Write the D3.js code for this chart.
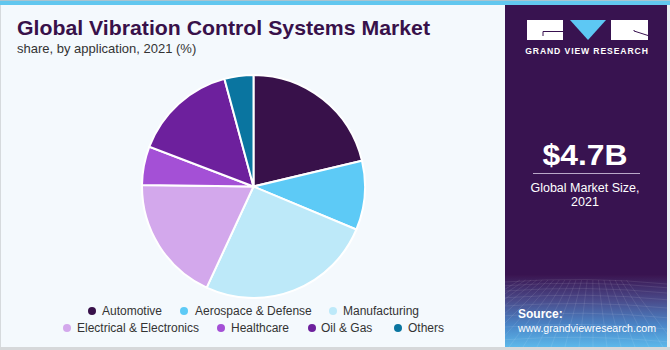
<!DOCTYPE html>
<html><head><meta charset="utf-8">
<script src="https://cdn.jsdelivr.net/npm/d3@7"></script>
<style>html,body{margin:0;padding:0;background:#fff;}svg{display:block;font-family:"Liberation Sans",Arial,sans-serif;}</style>
</head><body>
<svg id="c" width="670" height="350"></svg>
<script>
const categories = ["Automotive","Aerospace & Defense","Manufacturing","Electrical & Electronics","Healthcare","Oil & Gas","Others"];
const shares = [21.3, 10.0, 25.6, 18.3, 5.6, 15.0, 4.2];
const colors = ["#38114a","#5dcaf6","#bde9f9","#d3a8ec","#a450d6","#6d209d","#0a75a0"];
const title = "Global Vibration Control Systems Market";
const subtitle = "share, by application, 2021 (%)";
const marketSize = "$4.7B";
const marketLabel = ["Global Market Size,", "2021"];

const svg = d3.select("#c");
// background
svg.append("rect").attr("x",0).attr("y",0).attr("width",670).attr("height",350).attr("fill","#f4f9fd");
svg.append("rect").attr("x",0).attr("y",0).attr("width",1).attr("height",350).attr("fill","#d6dadd");
svg.append("rect").attr("x",0).attr("y",347).attr("width",670).attr("height",3).attr("fill","#d6d8da");
svg.append("rect").attr("x",0).attr("y",0).attr("width",670).attr("height",5).attr("fill","#62c7ef");
svg.append("rect").attr("x",0).attr("y",0).attr("width",670).attr("height",1).attr("fill","#a9c4d0");

// right panel
const defs = svg.append("defs");
const g1 = defs.append("linearGradient").attr("id","src").attr("x1",0).attr("y1",0).attr("x2",0).attr("y2",1);
g1.append("stop").attr("offset","0%").attr("stop-color","#3a1450");
g1.append("stop").attr("offset","35%").attr("stop-color","#4a4a8a");
g1.append("stop").attr("offset","70%").attr("stop-color","#4a86c8");
g1.append("stop").attr("offset","100%").attr("stop-color","#5cb8ea");
svg.append("rect").attr("x",505).attr("y",5).attr("width",162).attr("height",342).attr("fill","#381350");
svg.append("rect").attr("x",505).attr("y",275).attr("width",162).attr("height",72).attr("fill","url(#src)");
svg.append("rect").attr("x",667).attr("y",5).attr("width",3).attr("height",342).attr("fill","#e9eef2");
// grid texture
const gridG = svg.append("g").attr("stroke","#ffffff").attr("stroke-opacity",0.13).attr("stroke-width",0.7).attr("fill","none");
for(let i=0;i<10;i++){
  const y = 282 + i*i*0.75 + i*3;
  gridG.append("path").attr("d",`M505,${y} Q586,${y-6} 667,${y+2}`);
}
for(let i=-6;i<14;i++){
  const x0 = 505 + i*14;
  gridG.append("path").attr("d",`M${586+(x0-586)*0.4},280 L${x0-10},347`);
}

// logo
const logo = svg.append("g");
logo.append("rect").attr("x",527).attr("y",20).attr("width",36).attr("height",20).attr("fill","#fff");
logo.append("path").attr("d","M543,36 L543,31.5 L563,31.5").attr("stroke","#38114f").attr("stroke-width",1).attr("fill","none");
logo.append("path").attr("d","M570,20 L606,20 L588,40 Z").attr("fill","#5dc8f4");
logo.append("rect").attr("x",611).attr("y",20).attr("width",37).attr("height",20).attr("fill","#fff");
logo.append("path").attr("d","M634,31 L648,35.5 M634,31 L634,30").attr("stroke","#38114f").attr("stroke-width",1).attr("fill","none");
svg.append("text").attr("x",587).attr("y",54).attr("text-anchor","middle").attr("fill","#fff")
  .attr("font-size",8.6).attr("font-weight","bold").attr("letter-spacing",0.9).text("GRAND VIEW RESEARCH");

// market size
svg.append("text").attr("x",585).attr("y",165).attr("text-anchor","middle").attr("fill","#fff")
  .attr("font-size",29).attr("font-weight","bold").attr("textLength",85).attr("lengthAdjust","spacingAndGlyphs").text(marketSize);
svg.append("line").attr("x1",533).attr("x2",640).attr("y1",173.5).attr("y2",173.5).attr("stroke","#b9a8c8").attr("stroke-width",1);
marketLabel.forEach((t,i)=>svg.append("text").attr("x",585).attr("y",192+i*14).attr("text-anchor","middle")
  .attr("fill","#fff").attr("font-size",12.5).text(t));

// source
svg.append("text").attr("x",518).attr("y",318).attr("fill","#fff").attr("font-size",12).attr("font-weight","bold").text("Source:");
svg.append("text").attr("x",518).attr("y",332).attr("fill","#fff").attr("font-size",11.5)
  .attr("textLength",138).attr("lengthAdjust","spacingAndGlyphs").text("www.grandviewresearch.com");

// title
svg.append("text").attr("x",17).attr("y",35).attr("fill","#38114a").attr("font-size",20.5).attr("font-weight","bold")
  .attr("textLength",413).attr("lengthAdjust","spacingAndGlyphs").text(title);
svg.append("text").attr("x",17).attr("y",53).attr("fill","#333").attr("font-size",13).text(subtitle);

// pie
const cx=253.5, cy=186.5, r=111.5;
const pie = d3.pie().sort(null).value(d=>d)(shares);
const arc = d3.arc().innerRadius(0).outerRadius(r);
svg.append("g").attr("transform",`translate(${cx},${cy})`)
  .selectAll("path").data(pie).join("path")
  .attr("d",arc).attr("fill",(d,i)=>colors[i]).attr("stroke","#fff").attr("stroke-width",2);

// legend
const legendPos = [
  {dx:92,tx:102,y:311},{dx:184,tx:195,y:311},{dx:333,tx:343,y:311},
  {dx:67,tx:77,y:328},{dx:221,tx:231,y:328},{dx:312,tx:321,y:328},{dx:398,tx:408,y:328}
];
const leg = svg.append("g");
categories.forEach((c,i)=>{
  const p = legendPos[i];
  leg.append("circle").attr("cx",p.dx).attr("cy",p.y).attr("r",4).attr("fill",colors[i]);
  leg.append("text").attr("x",p.tx).attr("y",p.y+4.2).attr("fill","#333").attr("font-size",12).text(c);
});
</script>
</body></html>
